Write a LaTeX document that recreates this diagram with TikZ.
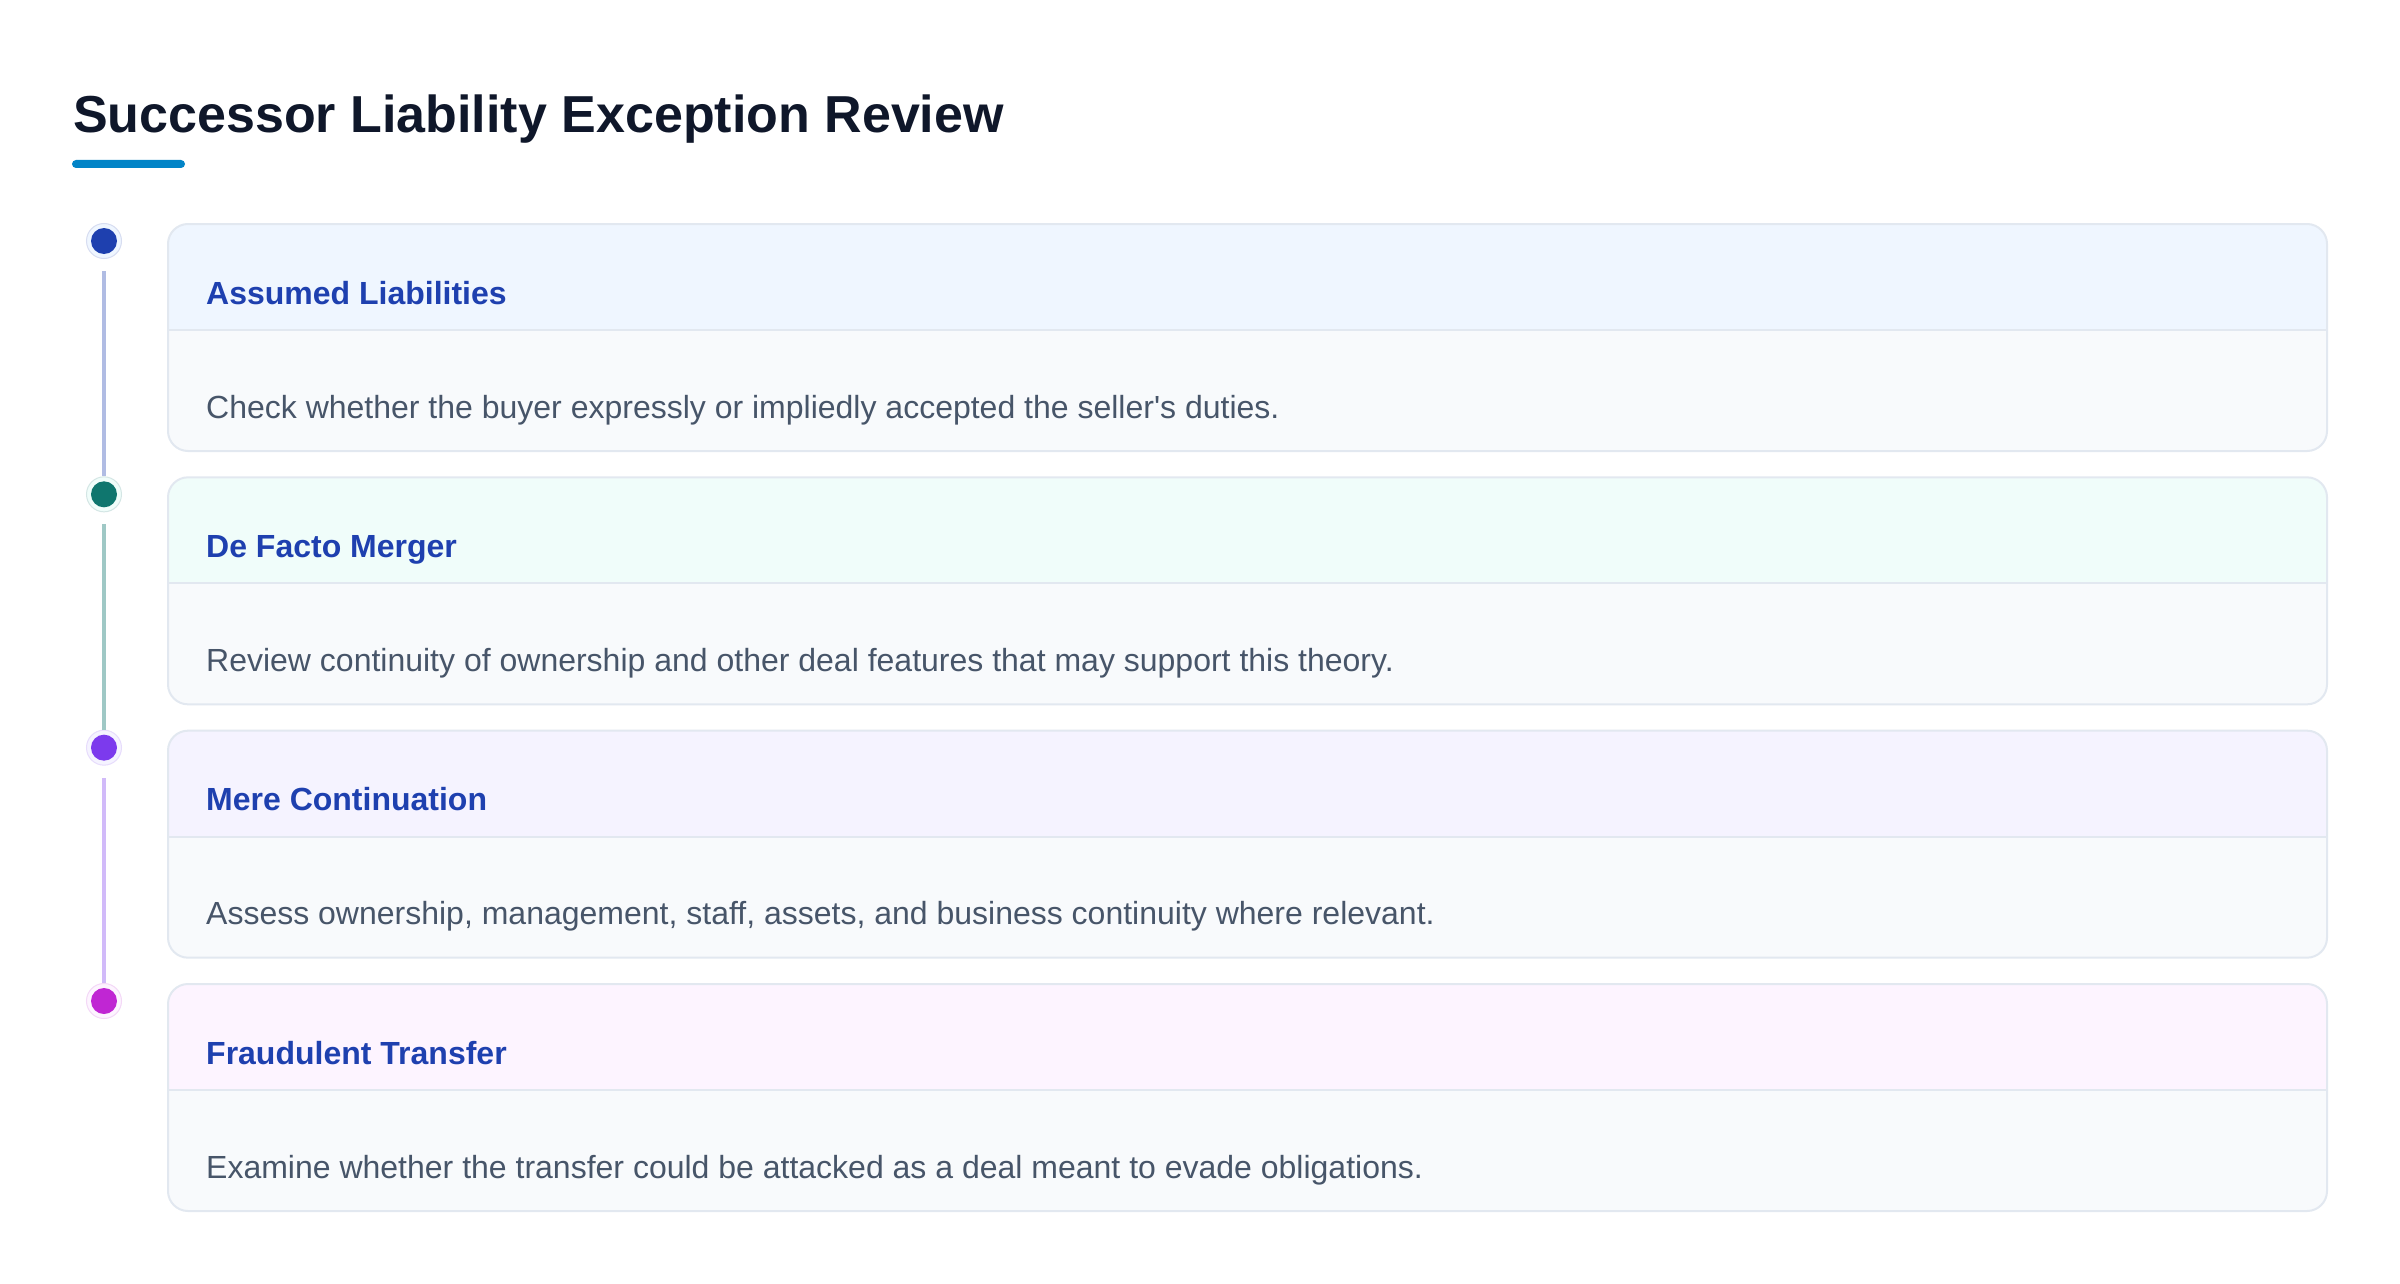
\documentclass[tikz,border=0pt]{standalone}
\usepackage{fontspec}
\setmainfont{Liberation Sans}[Ligatures=TeXOff]
\definecolor{titlec}{HTML}{0F172A}
\definecolor{underc}{HTML}{0284C7}
\definecolor{headtxt}{HTML}{1E40AF}
\definecolor{bodytxt}{HTML}{475569}
\definecolor{bodyfill}{HTML}{F8FAFC}
\definecolor{cardborder}{HTML}{E2E8F0}
\definecolor{dotA}{HTML}{1E40AF}
\definecolor{dotB}{HTML}{0F766E}
\definecolor{dotC}{HTML}{7C3AED}
\definecolor{dotD}{HTML}{C026D3}
\definecolor{headA}{HTML}{EFF6FF}
\definecolor{headB}{HTML}{F0FDFA}
\definecolor{headC}{HTML}{F5F3FF}
\definecolor{headD}{HTML}{FDF4FF}
\tikzset{
  titletext/.style={anchor=base west, inner sep=0pt, text=titlec, font=\fontsize{52}{60}\selectfont\bfseries},
  headtext/.style={anchor=base west, inner sep=0pt, text=headtxt, font=\fontsize{32}{38}\selectfont\bfseries},
  bodytext/.style={anchor=base west, inner sep=0pt, text=bodytxt, font=\fontsize{32}{38}\selectfont},
  cardline/.style={draw=cardborder, line width=2pt},
  railline/.style={line width=3.5pt},
}
\newcommand{\mycard}[6]{%
  % #1 name, #2 top y, #3 header colour, #4 dot colour, #5 heading, #6 body
  \begin{scope}
    \clip[rounded corners=20pt] (168,#2) rectangle (2327,#2+227);
    \fill[#3] (168,#2) rectangle (2327,#2+106);
    \fill[bodyfill] (168,#2+106) rectangle (2327,#2+227);
  \end{scope}
  \draw[cardline] (168,#2+106) -- (2327,#2+106);
  \draw[cardline, rounded corners=20pt] (168,#2) rectangle (2327,#2+227);
  \node[headtext] (#1h) at (206,#2+80) {#5};
  \node[bodytext] (#1b) at (206,#2+194) {#6};
  \fill[#3, draw=#4!18!white, line width=1pt] (104,#2+17) circle (17.5);
  \node[circle, fill=#4, minimum size=26pt, inner sep=0pt] (#1d) at (104,#2+17) {};
}
\begin{document}
\begin{tikzpicture}[x=1pt,y=-1pt]
\useasboundingbox (0,0) rectangle (2400,1284);
\fill[white] (0,0) rectangle (2400,1284);
\node[titletext] (title) at (73,133) {Successor Liability Exception Review};
\fill[underc, rounded corners=4pt] (72,160) rectangle (185,168);
\mycard{a}{224}{headA}{dotA}{Assumed Liabilities}{Check whether the buyer expressly or impliedly accepted the seller's duties.}
\mycard{b}{477.33}{headB}{dotB}{De Facto Merger}{Review continuity of ownership and other deal features that may support this theory.}
\mycard{c}{730.67}{headC}{dotC}{Mere Continuation}{Assess ownership, management, staff, assets, and business continuity where relevant.}
\mycard{d}{984}{headD}{dotD}{Fraudulent Transfer}{Examine whether the transfer could be attacked as a deal meant to evade obligations.}
\coordinate (a1) at (104,271); \coordinate (a2) at (104,476);
\coordinate (b1) at (104,524); \coordinate (b2) at (104,730);
\coordinate (c1) at (104,778); \coordinate (c2) at (104,983);
\draw[railline, dotA!35!white] (a1) -- (a2);
\draw[railline, dotB!40!white] (b1) -- (b2);
\draw[railline, dotC!35!white] (c1) -- (c2);
\end{tikzpicture}
\end{document}
